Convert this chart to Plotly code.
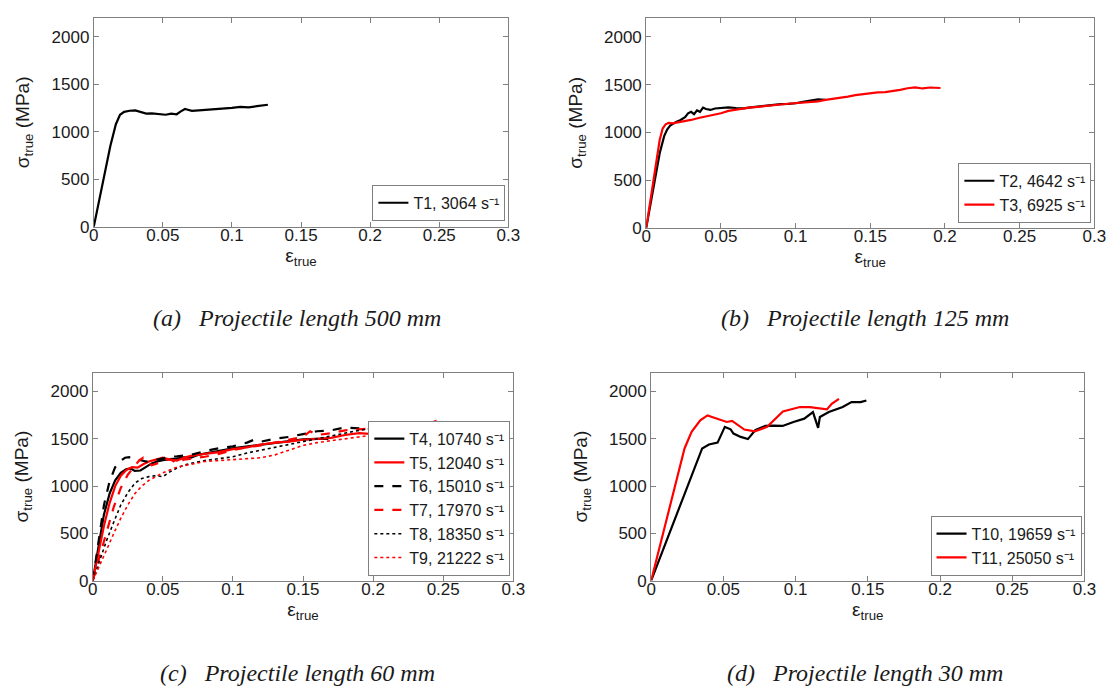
import plotly.graph_objects as go

# ---------------- data ----------------
x_ticks = [0, 0.05, 0.1, 0.15, 0.2, 0.25, 0.3]
x_tick_labels = ["0", "0.05", "0.1", "0.15", "0.2", "0.25", "0.3"]
y_ticks = [0, 500, 1000, 1500, 2000]
y_tick_labels = ["0", "500", "1000", "1500", "2000"]

captions = ["(a)   Projectile length 500 mm", "(b)   Projectile length 125 mm",
            "(c)   Projectile length 60 mm", "(d)   Projectile length 30 mm"]

# (a) T1
t1_eps = [0, 0.004, 0.008, 0.012, 0.016, 0.019, 0.022, 0.026, 0.030, 0.034, 0.038, 0.042, 0.047,
          0.052, 0.056, 0.060, 0.063, 0.066, 0.068, 0.071, 0.076, 0.082, 0.088, 0.094, 0.100,
          0.106, 0.112, 0.118, 0.122, 0.126]
t1_sig = [0, 280, 560, 850, 1080, 1180, 1210, 1222, 1225, 1210, 1192, 1195, 1186,
          1180, 1192, 1185, 1215, 1240, 1232, 1220, 1226, 1232, 1236, 1245, 1252,
          1262, 1258, 1270, 1278, 1285]

# (b) T2, T3
t2_eps = [0, 0.003, 0.006, 0.009, 0.012, 0.014, 0.016, 0.018, 0.020, 0.023, 0.026, 0.028, 0.030,
          0.032, 0.034, 0.036, 0.038, 0.040, 0.043, 0.046, 0.050, 0.055, 0.060, 0.065, 0.070,
          0.075, 0.080, 0.085, 0.090, 0.095, 0.100, 0.105, 0.110, 0.115, 0.120]
t2_sig = [0, 260, 520, 780, 960, 1030, 1070, 1090, 1110, 1130, 1160, 1200, 1215,
          1190, 1230, 1215, 1260, 1245, 1235, 1250, 1255, 1262, 1255, 1252, 1262,
          1270, 1282, 1285, 1295, 1298, 1305, 1320, 1335, 1345, 1340]
t3_eps = [0, 0.003, 0.006, 0.009, 0.011, 0.013, 0.015, 0.018, 0.021, 0.025, 0.030, 0.035, 0.040,
          0.045, 0.050, 0.055, 0.060, 0.065, 0.070, 0.075, 0.080, 0.085, 0.090, 0.095, 0.100,
          0.105, 0.110, 0.115, 0.120, 0.125, 0.130, 0.135, 0.140, 0.145, 0.150, 0.155, 0.160,
          0.165, 0.170, 0.175, 0.180, 0.185, 0.190, 0.197]
t3_sig = [0, 320, 640, 920, 1040, 1085, 1100, 1095, 1105, 1115, 1130, 1150, 1165,
          1185, 1200, 1225, 1238, 1245, 1262, 1268, 1278, 1285, 1292, 1300, 1305,
          1312, 1322, 1325, 1340, 1350, 1365, 1375, 1390, 1400, 1415, 1420, 1422,
          1430, 1445, 1462, 1472, 1460, 1470, 1465]

# (c) T4 - T9
t4_eps = [0, 0.004, 0.008, 0.012, 0.016, 0.020, 0.024, 0.027, 0.030, 0.034, 0.038, 0.042, 0.046,
          0.050, 0.055, 0.060, 0.065, 0.070, 0.075, 0.080, 0.085, 0.090, 0.095, 0.100, 0.105,
          0.110, 0.120, 0.130, 0.140, 0.150, 0.160, 0.168]
t4_sig = [0, 350, 700, 920, 1060, 1140, 1180, 1185, 1160, 1165, 1200, 1240, 1260,
          1275, 1285, 1290, 1305, 1300, 1330, 1345, 1355, 1370, 1385, 1400, 1410,
          1420, 1440, 1460, 1480, 1495, 1500, 1500]
t5_eps = [0, 0.004, 0.008, 0.012, 0.016, 0.020, 0.024, 0.028, 0.032, 0.036, 0.040, 0.045, 0.050,
          0.055, 0.060, 0.065, 0.070, 0.080, 0.090, 0.100, 0.110, 0.120, 0.130, 0.140, 0.150,
          0.160, 0.170, 0.180, 0.190, 0.200, 0.210]
t5_sig = [0, 300, 580, 820, 1000, 1110, 1170, 1200, 1195, 1230, 1260, 1280, 1300,
          1280, 1270, 1300, 1320, 1340, 1360, 1390, 1410, 1440, 1460, 1470, 1490,
          1500, 1510, 1540, 1560, 1550, 1565]
t6_eps = [0, 0.004, 0.008, 0.012, 0.016, 0.020, 0.023, 0.026, 0.030, 0.034, 0.038, 0.042, 0.046,
          0.050, 0.055, 0.060, 0.070, 0.080, 0.090, 0.100, 0.110, 0.115, 0.120, 0.130, 0.140,
          0.150, 0.160, 0.170, 0.180, 0.190, 0.200]
t6_sig = [0, 420, 800, 1050, 1200, 1270, 1300, 1305, 1280, 1275, 1260, 1265, 1280,
          1290, 1310, 1315, 1330, 1370, 1400, 1420, 1460, 1490, 1470, 1500, 1520,
          1550, 1580, 1590, 1620, 1610, 1625]
t7_eps = [0, 0.005, 0.010, 0.015, 0.020, 0.025, 0.030, 0.033, 0.036, 0.039, 0.042, 0.046, 0.050,
          0.055, 0.060, 0.065, 0.070, 0.080, 0.090, 0.100, 0.110, 0.120, 0.130, 0.140, 0.150,
          0.155, 0.160, 0.170, 0.180, 0.190, 0.200, 0.210, 0.220, 0.230, 0.240, 0.245, 0.250,
          0.257, 0.265]
t7_sig = [0, 250, 520, 780, 980, 1120, 1210, 1270, 1300, 1260, 1220, 1240, 1270,
          1285, 1240, 1280, 1290, 1310, 1340, 1380, 1410, 1430, 1460, 1490, 1520,
          1580, 1540, 1560, 1590, 1600, 1610, 1640, 1650, 1670, 1660, 1690, 1670,
          1650, 1670]
t8_eps = [0, 0.005, 0.010, 0.015, 0.020, 0.025, 0.030, 0.035, 0.040, 0.045, 0.050, 0.055, 0.060,
          0.065, 0.070, 0.080, 0.090, 0.100, 0.110, 0.120, 0.130, 0.140, 0.150, 0.160, 0.170,
          0.180, 0.190, 0.200, 0.210, 0.220]
t8_sig = [0, 220, 430, 620, 800, 930, 1030, 1080, 1100, 1110, 1100, 1150, 1190,
          1220, 1240, 1270, 1290, 1310, 1350, 1380, 1410, 1440, 1470, 1500, 1530,
          1560, 1590, 1610, 1640, 1660]
t9_eps = [0, 0.005, 0.010, 0.015, 0.020, 0.025, 0.030, 0.035, 0.040, 0.045, 0.050, 0.055, 0.060,
          0.070, 0.080, 0.090, 0.100, 0.110, 0.120, 0.130, 0.140, 0.150, 0.160, 0.170, 0.180,
          0.190, 0.200, 0.210, 0.220, 0.230, 0.240, 0.250, 0.260, 0.272]
t9_sig = [0, 160, 330, 500, 660, 800, 920, 1000, 1060, 1100, 1140, 1170, 1200,
          1230, 1260, 1270, 1280, 1290, 1300, 1330, 1380, 1430, 1460, 1480, 1500,
          1520, 1540, 1560, 1590, 1620, 1640, 1650, 1660, 1645]

# (d) T10, T11
t10_eps = [0, 0.010, 0.020, 0.0255, 0.030, 0.0353, 0.040, 0.0426, 0.046, 0.049, 0.051, 0.055,
           0.057, 0.062, 0.067, 0.072, 0.079, 0.085, 0.091, 0.0985, 0.106, 0.112, 0.1156,
           0.1168, 0.123, 0.1326, 0.1387, 0.145, 0.149]
t10_sig = [0, 390, 780, 1000, 1180, 1398, 1440, 1451, 1460, 1560, 1626, 1600,
           1556, 1520, 1497, 1591, 1636, 1640, 1636, 1678, 1713, 1783, 1615,
           1731, 1783, 1836, 1888, 1888, 1906]
t11_eps = [0, 0.010, 0.0231, 0.028, 0.034, 0.039, 0.045, 0.0523, 0.056, 0.0645, 0.0718,
           0.0803, 0.0912, 0.103, 0.110, 0.1217, 0.125, 0.130]
t11_sig = [0, 610, 1398, 1573, 1696, 1748, 1720, 1678, 1689, 1598, 1580,
           1626, 1790, 1836, 1836, 1811, 1870, 1923]

panels = [
    [("T1, 3064 s⁻¹", t1_eps, t1_sig, "black", "solid")],
    [("T2, 4642 s⁻¹", t2_eps, t2_sig, "black", "solid"),
     ("T3, 6925 s⁻¹", t3_eps, t3_sig, "red", "solid")],
    [("T4, 10740 s⁻¹", t4_eps, t4_sig, "black", "solid"),
     ("T5, 12040 s⁻¹", t5_eps, t5_sig, "red", "solid"),
     ("T6, 15010 s⁻¹", t6_eps, t6_sig, "black", "dash"),
     ("T7, 17970 s⁻¹", t7_eps, t7_sig, "red", "dash"),
     ("T8, 18350 s⁻¹", t8_eps, t8_sig, "black", "dot"),
     ("T9, 21222 s⁻¹", t9_eps, t9_sig, "red", "dot")],
    [("T10, 19659 s⁻¹", t10_eps, t10_sig, "black", "solid"),
     ("T11, 25050 s⁻¹", t11_eps, t11_sig, "red", "solid")],
]

# ---------------- layout geometry (pixels) ----------------
W, H = 1120, 691
boxes = [(82, 503, 10, 222), (643, 1098, 10, 223), (81, 508, 370, 581), (648, 1088, 370, 581)]
legend_corners = [(500, 216), (1095, 218), (505, 576), (1085, 576)]
caption_pos = [(288, 315), (865, 315), (289, 675), (865, 675)]

fig = go.Figure()
layout = dict(width=W, height=H, autosize=False, margin=dict(l=0, r=0, t=0, b=0),
              paper_bgcolor="white", plot_bgcolor="white", annotations=[], showlegend=True)

FONT = "Liberation Sans, Arial"
tickfont = dict(family=FONT, size=17, color="#1a1a1a")
for i, (series, box, lc, cp, cap) in enumerate(zip(panels, boxes, legend_corners, caption_pos, captions)):
    k = "" if i == 0 else str(i + 1)
    leg = "legend" if i == 0 else f"legend{i + 1}"
    for name, xs, ys, col, dash in series:
        w = 2.2 if dash != "dot" else 1.6
        fig.add_trace(go.Scatter(x=xs, y=ys, mode="lines", name=name, showlegend=True,
                                 line=dict(color=col, width=w, dash=dash),
                                 xaxis="x" + k, yaxis="y" + k, legend=leg))
    x0, x1, y0, y1 = box
    axcommon = dict(showline=True, linecolor="#808080", linewidth=1, mirror="ticks",
                    ticks="inside", ticklen=5, tickcolor="#808080", showgrid=False,
                    zeroline=False, tickfont=tickfont)
    layout["xaxis" + k] = dict(domain=[x0 / W, x1 / W], range=[0, 0.3], anchor="y" + k,
                               tickvals=x_ticks, ticktext=x_tick_labels, ticklabelstandoff=-7,
                               title=dict(text="ε<sub>true</sub>", font=dict(family=FONT, size=19, color="#1a1a1a"), standoff=0),
                               **axcommon)
    layout["yaxis" + k] = dict(domain=[1 - y1 / H, 1 - y0 / H], range=[0, 2200], anchor="x" + k,
                               tickvals=y_ticks, ticktext=y_tick_labels,
                               title=dict(text="σ<sub>true</sub> (MPa)", font=dict(family=FONT, size=19, color="#1a1a1a"), standoff=16),
                               **axcommon)
    layout[leg] = dict(x=lc[0] / W, y=1 - lc[1] / H, xanchor="right", yanchor="bottom",
                       bgcolor="white", bordercolor="#808080", borderwidth=1,
                       font=dict(family=FONT, size=16, color="#1a1a1a"),
                       itemwidth=30, tracegroupgap=0)
    layout["annotations"].append(dict(text="<i>" + cap.replace("   ", "&nbsp;&nbsp;&nbsp;") + "</i>",
                                      x=cp[0] / W, y=1 - cp[1] / H, xref="paper", yref="paper",
                                      xanchor="center", yanchor="middle", showarrow=False,
                                      font=dict(family="Liberation Serif, Times New Roman", size=24, color="#1a1a1a")))

fig.update_layout(**layout)
fig.write_html("out.html")
